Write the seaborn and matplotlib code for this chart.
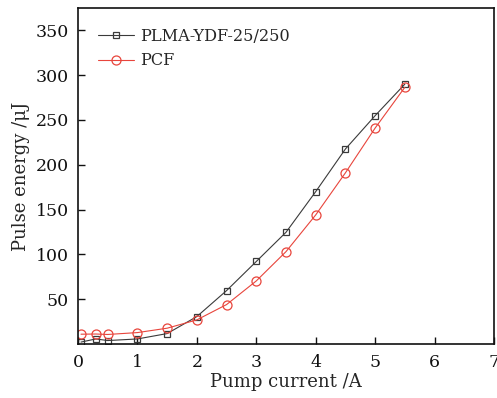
import numpy as np
import pandas as pd
import matplotlib
matplotlib.use("Agg")
import matplotlib.pyplot as plt
import seaborn as sns

# pump current (A) and pulse energy (uJ)
current = [0.05, 0.3, 0.5, 1.0, 1.5, 2.0, 2.5, 3.0, 3.5, 4.0, 4.5, 5.0, 5.5]
energy_plma = [2, 5.5, 3.7, 5.5, 11.5, 30.5, 59.5, 92, 124.6, 170, 217.6, 254.8, 290]
energy_pcf = [10.8, 11, 10.5, 12.6, 17.5, 26.8, 43.9, 70.3, 103, 144, 191, 241, 286.5]

labels = ["PLMA-YDF-25/250", "PCF"]
x_ticks = [0, 1, 2, 3, 4, 5, 6, 7]
y_ticks = [50, 100, 150, 200, 250, 300, 350]

sns.set_style("ticks")
plt.rcParams["font.family"] = ["DejaVu Serif"]
plt.rcParams["mathtext.fontset"] = "dejavuserif"

df_plma = pd.DataFrame({"current": current, "energy": energy_plma})
df_pcf = pd.DataFrame({"current": current, "energy": energy_pcf})

fig = plt.figure(figsize=(4.97, 3.98), dpi=100)
ax = fig.add_axes([0.157, 0.136, 0.837, 0.844])

sns.lineplot(data=df_plma, x="current", y="energy", ax=ax, color="#3a3a3a",
             marker="s", markersize=5, markerfacecolor="none",
             markeredgecolor="#3a3a3a", markeredgewidth=0.9, linewidth=0.8,
             label=labels[0])
sns.lineplot(data=df_pcf, x="current", y="energy", ax=ax, color="#e8453c",
             marker="o", markersize=6.5, markerfacecolor="none",
             markeredgecolor="#e8453c", markeredgewidth=0.9, linewidth=0.8,
             label=labels[1])

ax.set_xlim(0, 7)
ax.set_ylim(0, 375)
ax.set_xticks(x_ticks)
ax.set_yticks(y_ticks)
ax.tick_params(direction="in", length=5, width=1, labelsize=12.5, colors="#111111")
ax.tick_params(axis="x", pad=7)
ax.tick_params(axis="y", pad=6.5)
ax.set_xlabel("Pump current /A", fontsize=13, labelpad=2)
ax.set_ylabel("Pulse energy /μJ", fontsize=13, labelpad=4)
for s in ax.spines.values():
    s.set_linewidth(1.2)
    s.set_color("#111111")

ax.legend(loc="upper left", frameon=False, fontsize=11.6, handlelength=2.2,
          borderaxespad=0.85, labelspacing=0.45, handletextpad=0.4)

fig.savefig("out.png", dpi=100)
